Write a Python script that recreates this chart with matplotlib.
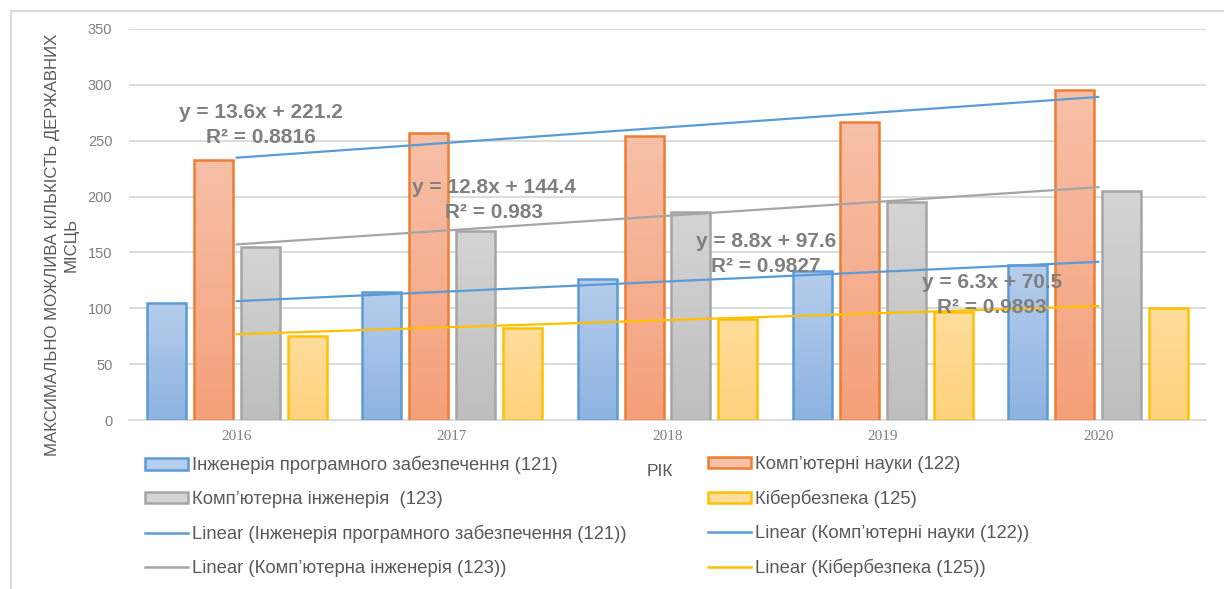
import matplotlib
matplotlib.use("Agg")
import matplotlib.pyplot as plt
import numpy as np
from matplotlib.patches import Rectangle
from matplotlib.lines import Line2D
from matplotlib.colors import LinearSegmentedColormap

years = ["2016", "2017", "2018", "2019", "2020"]
series_names = ["Інженерія програмного забезпечення (121)",
                "Комп’ютерні науки (122)",
                "Комп’ютерна інженерія  (123)",
                "Кібербезпека (125)"]
se_121 = [105, 115, 126, 133, 139]
cs_122 = [233, 257, 254, 267, 295]
ce_123 = [155, 169, 186, 195, 205]
cb_125 = [75, 82, 90, 97, 100]
values = [se_121, cs_122, ce_123, cb_125]

# trendline labels (slope, intercept, R^2)
trend_slope = [8.8, 13.6, 12.8, 6.3]
trend_intercept = [97.6, 221.2, 144.4, 70.5]
trend_r2 = ["0.9827", "0.8816", "0.983", "0.9893"]

edge_colors = ["#5b9bd5", "#ed7d31", "#a5a5a5", "#ffc000"]
grad_top = ["#b6cdeb", "#f7c0a8", "#d4d4d4", "#ffdd9c"]
grad_bot = ["#8db3e2", "#f4a07a", "#bebebe", "#ffd27c"]
trend_colors = ["#5b9bd5", "#5b9bd5", "#a5a5a5", "#ffc000"]

W, H = 1224, 589
fig = plt.figure(figsize=(W / 100, H / 100), dpi=100)
ax = fig.add_axes([129 / W, 1 - 420 / H, (1206 - 129) / W, (420 - 29) / H])

sans = ["Liberation Sans", "DejaVu Sans"]

x = np.arange(len(years))
bw = 0.181
step = 0.218
offsets = [(-1.5 + i) * step for i in range(4)]

for i, vals in enumerate(values):
    bars = ax.bar(x + offsets[i], vals, width=bw, facecolor="none",
                  edgecolor=edge_colors[i], linewidth=1.8, zorder=3)
    cmap = LinearSegmentedColormap.from_list("g%d" % i, [grad_bot[i], grad_top[i]])
    grad = np.linspace(0, 1, 100).reshape(-1, 1)
    for b in bars:
        x0, y0 = b.get_x(), b.get_y()
        w, h = b.get_width(), b.get_height()
        im = ax.imshow(grad, cmap=cmap, origin="lower", aspect="auto",
                       extent=[x0, x0 + w, y0, y0 + h], zorder=2.5)
        im.set_clip_path(b)

# trend lines (x in Excel numbering 1..5)
xt = np.array([x[0], x[-1]])
for i in range(4):
    yt = trend_slope[i] * (xt + 1) + trend_intercept[i]
    ax.plot(xt, yt, color=trend_colors[i], linewidth=1.6, zorder=4)

ax.set_xlim(-0.5, 4.5)
ax.set_ylim(0, 350)
ax.set_yticks(np.arange(0, 351, 50))
ax.set_xticks(x)
ax.set_xticklabels(years, family=["Liberation Serif"], fontsize=11, color="#7f7f7f")
for t in ax.get_yticklabels():
    t.set_family(sans)
ax.tick_params(axis="y", labelsize=10.5, labelcolor="#7f7f7f", length=0, pad=12)
ax.tick_params(axis="x", length=0, pad=7)
ax.grid(axis="y", color="#d9d9d9", linewidth=1.3, zorder=0)
ax.set_axisbelow(True)
for s in ["top", "right", "left"]:
    ax.spines[s].set_visible(False)
ax.spines["bottom"].set_color("#d9d9d9")
ax.spines["bottom"].set_linewidth(1.3)

# axis titles
fig.text(62 / W, 1 - 245 / H, "МАКСИМАЛЬНО МОЖЛИВА КІЛЬКІСТЬ ДЕРЖАВНИХ\nМІСЦЬ",
         rotation=90, ha="center", va="center", fontsize=12.1, color="#595959",
         family=sans, linespacing=1.25, multialignment="center")
fig.text(660 / W, 1 - 471 / H, "РІК", ha="center", va="center", fontsize=12.5,
         color="#595959", family=sans)

# trendline equation labels
lab_pos = {1: (261, 125), 2: (494, 200), 0: (766, 254), 3: (992, 295)}
for i, (px, py) in lab_pos.items():
    fig.text(px / W, 1 - py / H,
             "y = %sx + %s\nR² = %s" % (trend_slope[i], trend_intercept[i], trend_r2[i]),
             ha="center", va="center", fontsize=15, fontweight="bold",
             color="#7f7f7f", family=sans, linespacing=1.45, zorder=10)

# legend
def bar_handle(i):
    return Rectangle((0, 0), 1, 1, facecolor=grad_top[i], edgecolor=edge_colors[i], linewidth=1.8)

def line_handle(i):
    return Line2D([0], [0], color=trend_colors[i], linewidth=1.8)

col1_h = [bar_handle(0), bar_handle(2), line_handle(0), line_handle(2)]
col1_l = [series_names[0], series_names[2],
          "Linear (%s)" % series_names[0], "Linear (%s)" % series_names[2].replace("  ", " ")]
col2_h = [bar_handle(1), bar_handle(3), line_handle(1), line_handle(3)]
col2_l = [series_names[1], series_names[3],
          "Linear (%s)" % series_names[1], "Linear (%s)" % series_names[3]]

for hs, ls, px in [(col1_h, col1_l, 145), (col2_h, col2_l, 708)]:
    leg = fig.legend(hs, ls, loc="upper left", bbox_to_anchor=(px / W, 1 - 456 / H),
                     frameon=False, borderpad=0, borderaxespad=0, handlelength=2.35,
                     handleheight=0.6, handletextpad=0.22, labelspacing=0.91,
                     prop={"family": sans, "size": 13.3})
    for t in leg.get_texts():
        t.set_color("#595959")

# chart border (top and left edges visible)
fig.add_artist(Line2D([11 / W, 1.0], [1 - 11 / H, 1 - 11 / H], transform=fig.transFigure,
                      color="#d9d9d9", linewidth=1.5))
fig.add_artist(Line2D([11 / W, 11 / W], [0.0, 1 - 11 / H], transform=fig.transFigure,
                      color="#d9d9d9", linewidth=1.5))

fig.savefig("out.png", dpi=100)
